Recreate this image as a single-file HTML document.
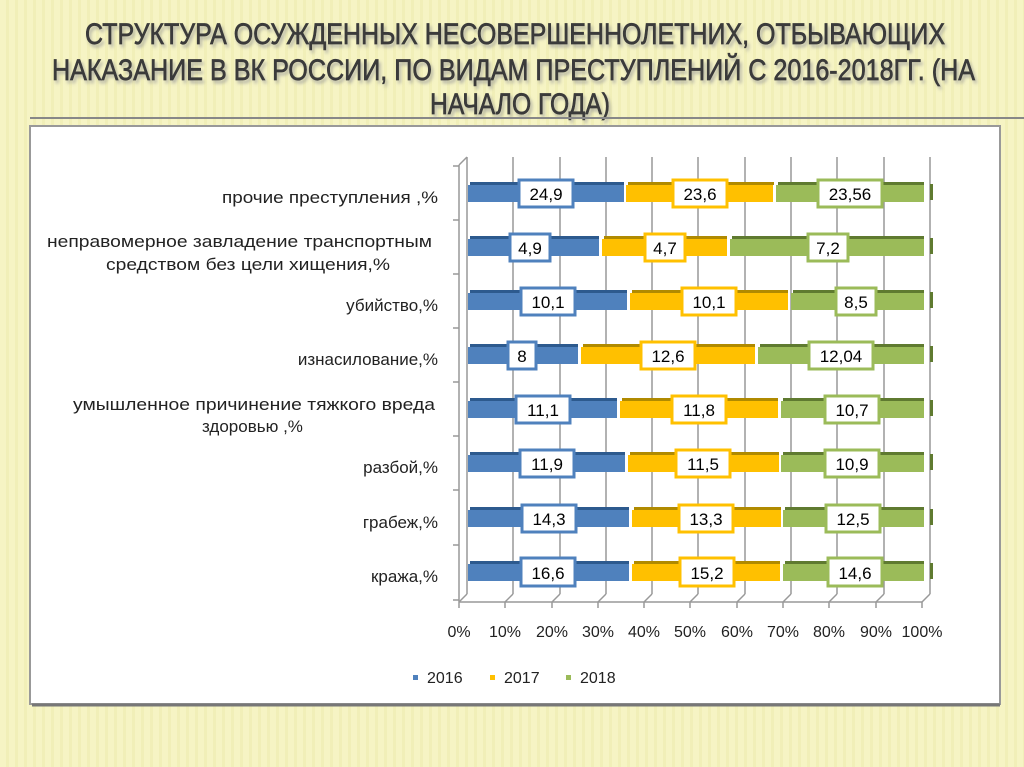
<!DOCTYPE html>
<html><head><meta charset="utf-8"><style>
html,body{margin:0;padding:0;width:1024px;height:767px;overflow:hidden}
body{background:repeating-linear-gradient(90deg,#f6f4c4 0 6px,#f1efb8 6px 9px);font-family:"Liberation Sans",sans-serif}
</style></head><body>
<svg width="1024" height="767" xmlns="http://www.w3.org/2000/svg" style="position:absolute;left:0;top:0">
<defs><filter id="sh"><feDropShadow dx="2" dy="3" stdDeviation="1.5" flood-color="#999" flood-opacity="0.7"/></filter></defs>
<g font-family="'Liberation Sans',sans-serif" font-size="30" fill="#3a3a3a" stroke="#3a3a3a" stroke-width="0.7" filter="url(#sh)">
<text x="85" y="44" textLength="860" lengthAdjust="spacingAndGlyphs">СТРУКТУРА ОСУЖДЕННЫХ НЕСОВЕРШЕННОЛЕТНИХ, ОТБЫВАЮЩИХ</text>
<text x="52" y="80" textLength="923" lengthAdjust="spacingAndGlyphs">НАКАЗАНИЕ В ВК РОССИИ, ПО ВИДАМ ПРЕСТУПЛЕНИЙ С 2016-2018ГГ. (НА</text>
<text x="430" y="114" textLength="180" lengthAdjust="spacingAndGlyphs">НАЧАЛО ГОДА)</text>
</g>
<line x1="30" y1="118" x2="1024" y2="118" stroke="#888" stroke-width="2"/>
<rect x="30" y="126" width="970" height="578" fill="#fff" stroke="#999" stroke-width="2"/>
<line x1="32" y1="705" x2="1000" y2="705" stroke="#777" stroke-width="3"/>
<g stroke="#999" stroke-width="1.5">
<line x1="467" y1="157" x2="467" y2="594"/><line x1="513" y1="157" x2="513" y2="594"/><line x1="560" y1="157" x2="560" y2="594"/><line x1="606" y1="157" x2="606" y2="594"/><line x1="652" y1="157" x2="652" y2="594"/><line x1="698" y1="157" x2="698" y2="594"/><line x1="745" y1="157" x2="745" y2="594"/><line x1="791" y1="157" x2="791" y2="594"/><line x1="837" y1="157" x2="837" y2="594"/><line x1="884" y1="157" x2="884" y2="594"/><line x1="930" y1="157" x2="930" y2="594"/>
<line x1="459" y1="165" x2="459" y2="602"/><line x1="459" y1="165" x2="467" y2="157"/>
<line x1="459" y1="602" x2="922" y2="602"/>
<line x1="459" y1="602" x2="467" y2="594"/><line x1="505" y1="602" x2="513" y2="594"/><line x1="552" y1="602" x2="560" y2="594"/><line x1="598" y1="602" x2="606" y2="594"/><line x1="644" y1="602" x2="652" y2="594"/><line x1="690" y1="602" x2="698" y2="594"/><line x1="737" y1="602" x2="745" y2="594"/><line x1="783" y1="602" x2="791" y2="594"/><line x1="829" y1="602" x2="837" y2="594"/><line x1="876" y1="602" x2="884" y2="594"/><line x1="922" y1="602" x2="930" y2="594"/>
<line x1="459" y1="602" x2="459" y2="608"/><line x1="505" y1="602" x2="505" y2="608"/><line x1="552" y1="602" x2="552" y2="608"/><line x1="598" y1="602" x2="598" y2="608"/><line x1="644" y1="602" x2="644" y2="608"/><line x1="690" y1="602" x2="690" y2="608"/><line x1="737" y1="602" x2="737" y2="608"/><line x1="783" y1="602" x2="783" y2="608"/><line x1="829" y1="602" x2="829" y2="608"/><line x1="876" y1="602" x2="876" y2="608"/><line x1="922" y1="602" x2="922" y2="608"/>
<line x1="453" y1="166" x2="459" y2="166"/><line x1="453" y1="220" x2="459" y2="220"/><line x1="453" y1="274" x2="459" y2="274"/><line x1="453" y1="328" x2="459" y2="328"/><line x1="453" y1="382" x2="459" y2="382"/><line x1="453" y1="436" x2="459" y2="436"/><line x1="453" y1="490" x2="459" y2="490"/><line x1="453" y1="545" x2="459" y2="545"/><line x1="453" y1="600" x2="459" y2="600"/>
</g>
<g font-size="16" fill="#222" text-anchor="middle">
<text x="459" y="637">0%</text><text x="505" y="637">10%</text><text x="552" y="637">20%</text><text x="598" y="637">30%</text><text x="644" y="637">40%</text><text x="690" y="637">50%</text><text x="737" y="637">60%</text><text x="783" y="637">70%</text><text x="829" y="637">80%</text><text x="876" y="637">90%</text><text x="922" y="637">100%</text>
</g>
<g font-size="17" fill="#222" text-anchor="end">
<text x="438" y="203" textLength="216" lengthAdjust="spacingAndGlyphs">прочие преступления ,%</text>
<text x="47" y="247" text-anchor="start" textLength="385" lengthAdjust="spacingAndGlyphs">неправомерное завладение транспортным</text>
<text x="106" y="270" text-anchor="start" textLength="284" lengthAdjust="spacingAndGlyphs">средством без цели хищения,%</text>
<text x="438" y="311">убийство,%</text>
<text x="438" y="365">изнасилование,%</text>
<text x="73" y="410" text-anchor="start" textLength="362" lengthAdjust="spacingAndGlyphs">умышленное причинение тяжкого вреда</text>
<text x="202" y="432" text-anchor="start">здоровью ,%</text>
<text x="438" y="473">разбой,%</text>
<text x="438" y="528">грабеж,%</text>
<text x="438" y="582">кража,%</text>
</g>
<g font-size="17">
<g>
<rect x="470" y="182" width="154" height="3" fill="#2d5a8e"/><rect x="468" y="185" width="156" height="17" fill="#4f81bd"/>
<rect x="628" y="182" width="146" height="3" fill="#b08a00"/><rect x="626" y="185" width="147" height="17" fill="#ffc000"/>
<rect x="778" y="182" width="146" height="3" fill="#5f7a30"/><rect x="776" y="185" width="148" height="17" fill="#9bbb59"/>
<rect x="930" y="184" width="3" height="16" fill="#5f7a30"/>
<rect x="519" y="180" width="54" height="27" fill="#fff" stroke="#4f81bd" stroke-width="3"/><text x="546" y="200" text-anchor="middle">24,9</text>
<rect x="673" y="180" width="54" height="27" fill="#fff" stroke="#ffc000" stroke-width="3"/><text x="700" y="200" text-anchor="middle">23,6</text>
<rect x="818" y="180" width="64" height="27" fill="#fff" stroke="#9bbb59" stroke-width="3"/><text x="850" y="200" text-anchor="middle">23,56</text>
</g>
<g>
<rect x="470" y="236" width="129" height="3" fill="#2d5a8e"/><rect x="468" y="239" width="131" height="17" fill="#4f81bd"/>
<rect x="604" y="236" width="123" height="3" fill="#b08a00"/><rect x="602" y="239" width="125" height="17" fill="#ffc000"/>
<rect x="732" y="236" width="192" height="3" fill="#5f7a30"/><rect x="730" y="239" width="194" height="17" fill="#9bbb59"/>
<rect x="930" y="238" width="3" height="16" fill="#5f7a30"/>
<rect x="510" y="234" width="40" height="27" fill="#fff" stroke="#4f81bd" stroke-width="3"/><text x="530" y="254" text-anchor="middle">4,9</text>
<rect x="645" y="234" width="40" height="27" fill="#fff" stroke="#ffc000" stroke-width="3"/><text x="665" y="254" text-anchor="middle">4,7</text>
<rect x="808" y="234" width="40" height="27" fill="#fff" stroke="#9bbb59" stroke-width="3"/><text x="828" y="254" text-anchor="middle">7,2</text>
</g>
<g>
<rect x="470" y="290" width="157" height="3" fill="#2d5a8e"/><rect x="468" y="293" width="159" height="17" fill="#4f81bd"/>
<rect x="632" y="290" width="156" height="3" fill="#b08a00"/><rect x="630" y="293" width="158" height="17" fill="#ffc000"/>
<rect x="793" y="290" width="131" height="3" fill="#5f7a30"/><rect x="791" y="293" width="133" height="17" fill="#9bbb59"/>
<rect x="930" y="292" width="3" height="16" fill="#5f7a30"/>
<rect x="521" y="288" width="54" height="27" fill="#fff" stroke="#4f81bd" stroke-width="3"/><text x="548" y="308" text-anchor="middle">10,1</text>
<rect x="682" y="288" width="54" height="27" fill="#fff" stroke="#ffc000" stroke-width="3"/><text x="709" y="308" text-anchor="middle">10,1</text>
<rect x="836" y="288" width="40" height="27" fill="#fff" stroke="#9bbb59" stroke-width="3"/><text x="856" y="308" text-anchor="middle">8,5</text>
</g>
<g>
<rect x="470" y="344" width="108" height="3" fill="#2d5a8e"/><rect x="468" y="347" width="110" height="17" fill="#4f81bd"/>
<rect x="583" y="344" width="172" height="3" fill="#b08a00"/><rect x="581" y="347" width="174" height="17" fill="#ffc000"/>
<rect x="760" y="344" width="164" height="3" fill="#5f7a30"/><rect x="758" y="347" width="166" height="17" fill="#9bbb59"/>
<rect x="930" y="346" width="3" height="16" fill="#5f7a30"/>
<rect x="508" y="342" width="28" height="27" fill="#fff" stroke="#4f81bd" stroke-width="3"/><text x="522" y="362" text-anchor="middle">8</text>
<rect x="641" y="342" width="54" height="27" fill="#fff" stroke="#ffc000" stroke-width="3"/><text x="668" y="362" text-anchor="middle">12,6</text>
<rect x="809" y="342" width="64" height="27" fill="#fff" stroke="#9bbb59" stroke-width="3"/><text x="841" y="362" text-anchor="middle">12,04</text>
</g>
<g>
<rect x="470" y="398" width="147" height="3" fill="#2d5a8e"/><rect x="468" y="401" width="149" height="17" fill="#4f81bd"/>
<rect x="622" y="398" width="156" height="3" fill="#b08a00"/><rect x="620" y="401" width="158" height="17" fill="#ffc000"/>
<rect x="783" y="398" width="141" height="3" fill="#5f7a30"/><rect x="781" y="401" width="143" height="17" fill="#9bbb59"/>
<rect x="930" y="400" width="3" height="16" fill="#5f7a30"/>
<rect x="516" y="396" width="54" height="27" fill="#fff" stroke="#4f81bd" stroke-width="3"/><text x="543" y="416" text-anchor="middle">11,1</text>
<rect x="672" y="396" width="54" height="27" fill="#fff" stroke="#ffc000" stroke-width="3"/><text x="699" y="416" text-anchor="middle">11,8</text>
<rect x="825" y="396" width="54" height="27" fill="#fff" stroke="#9bbb59" stroke-width="3"/><text x="852" y="416" text-anchor="middle">10,7</text>
</g>
<g>
<rect x="470" y="452" width="155" height="3" fill="#2d5a8e"/><rect x="468" y="455" width="157" height="17" fill="#4f81bd"/>
<rect x="630" y="452" width="149" height="3" fill="#b08a00"/><rect x="628" y="455" width="151" height="17" fill="#ffc000"/>
<rect x="783" y="452" width="141" height="3" fill="#5f7a30"/><rect x="781" y="455" width="143" height="17" fill="#9bbb59"/>
<rect x="930" y="454" width="3" height="16" fill="#5f7a30"/>
<rect x="520" y="450" width="54" height="27" fill="#fff" stroke="#4f81bd" stroke-width="3"/><text x="547" y="470" text-anchor="middle">11,9</text>
<rect x="676" y="450" width="54" height="27" fill="#fff" stroke="#ffc000" stroke-width="3"/><text x="703" y="470" text-anchor="middle">11,5</text>
<rect x="825" y="450" width="54" height="27" fill="#fff" stroke="#9bbb59" stroke-width="3"/><text x="852" y="470" text-anchor="middle">10,9</text>
</g>
<g>
<rect x="470" y="507" width="159" height="3" fill="#2d5a8e"/><rect x="468" y="510" width="161" height="17" fill="#4f81bd"/>
<rect x="634" y="507" width="147" height="3" fill="#b08a00"/><rect x="632" y="510" width="149" height="17" fill="#ffc000"/>
<rect x="785" y="507" width="139" height="3" fill="#5f7a30"/><rect x="783" y="510" width="141" height="17" fill="#9bbb59"/>
<rect x="930" y="509" width="3" height="16" fill="#5f7a30"/>
<rect x="522" y="505" width="54" height="27" fill="#fff" stroke="#4f81bd" stroke-width="3"/><text x="549" y="525" text-anchor="middle">14,3</text>
<rect x="679" y="505" width="54" height="27" fill="#fff" stroke="#ffc000" stroke-width="3"/><text x="706" y="525" text-anchor="middle">13,3</text>
<rect x="826" y="505" width="54" height="27" fill="#fff" stroke="#9bbb59" stroke-width="3"/><text x="853" y="525" text-anchor="middle">12,5</text>
</g>
<g>
<rect x="470" y="561" width="159" height="3" fill="#2d5a8e"/><rect x="468" y="564" width="161" height="17" fill="#4f81bd"/>
<rect x="634" y="561" width="146" height="3" fill="#b08a00"/><rect x="632" y="564" width="148" height="17" fill="#ffc000"/>
<rect x="785" y="561" width="139" height="3" fill="#5f7a30"/><rect x="783" y="564" width="141" height="17" fill="#9bbb59"/>
<rect x="930" y="563" width="3" height="16" fill="#5f7a30"/>
<rect x="521" y="558" width="54" height="28" fill="#fff" stroke="#4f81bd" stroke-width="3"/><text x="548" y="579" text-anchor="middle">16,6</text>
<rect x="680" y="558" width="54" height="28" fill="#fff" stroke="#ffc000" stroke-width="3"/><text x="707" y="579" text-anchor="middle">15,2</text>
<rect x="828" y="558" width="54" height="28" fill="#fff" stroke="#9bbb59" stroke-width="3"/><text x="855" y="579" text-anchor="middle">14,6</text>
</g>
</g>
<g font-size="16" fill="#222">
<rect x="413" y="675" width="5" height="5" fill="#4f81bd"/><text x="427" y="683">2016</text>
<rect x="490" y="675" width="5" height="5" fill="#ffc000"/><text x="504" y="683">2017</text>
<rect x="566" y="675" width="5" height="5" fill="#9bbb59"/><text x="580" y="683">2018</text>
</g>
</svg>
</body></html>
